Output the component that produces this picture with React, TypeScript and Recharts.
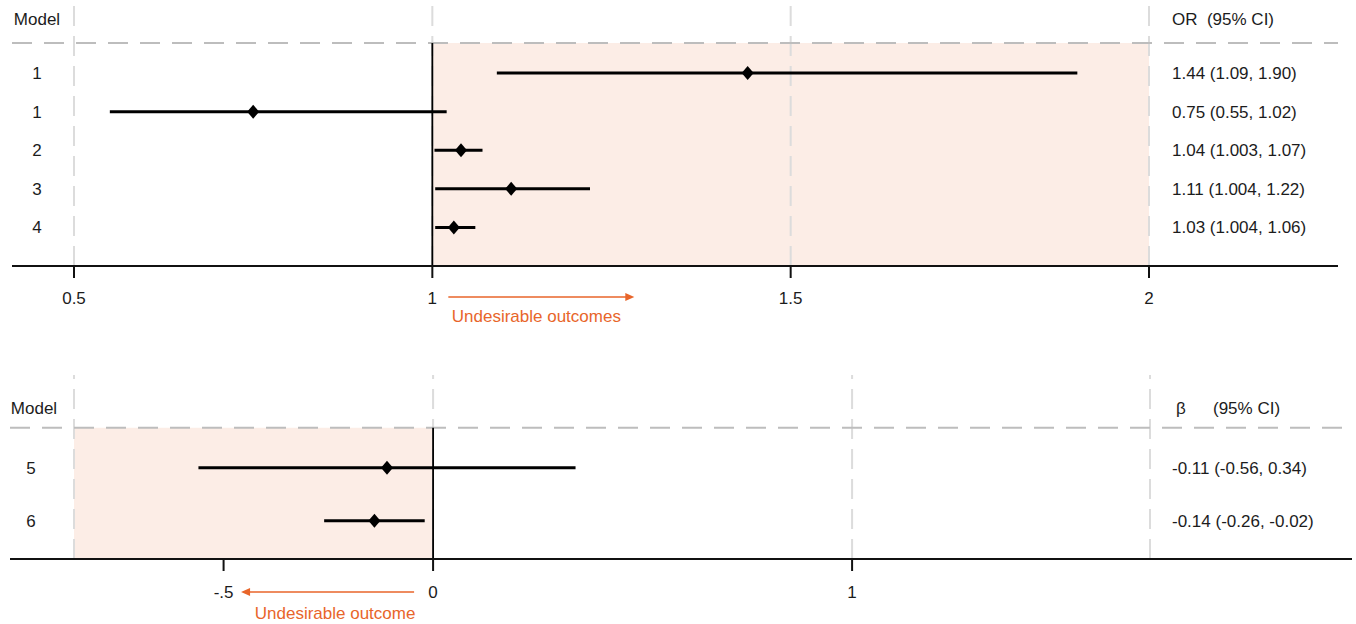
import React from 'react';
import { ComposedChart, Scatter, ErrorBar, XAxis, YAxis, ReferenceLine, ReferenceArea } from 'recharts';

// ---------- Data: odds ratios (top panel) ----------
const orModels = ['1', '1', '2', '3', '4'];
const orEstimate = [1.44, 0.75, 1.04, 1.11, 1.03];
const orLower = [1.09, 0.55, 1.003, 1.004, 1.004];
const orUpper = [1.9, 1.02, 1.07, 1.22, 1.06];
const orText = ['1.44 (1.09, 1.90)', '0.75 (0.55, 1.02)', '1.04 (1.003, 1.07)', '1.11 (1.004, 1.22)', '1.03 (1.004, 1.06)'];
const orTicks = [0.5, 1, 1.5, 2];
const orTickLabels = ['0.5', '1', '1.5', '2'];

// ---------- Data: beta coefficients (bottom panel) ----------
const betaModels = ['5', '6'];
const betaEstimate = [-0.11, -0.14];
const betaLower = [-0.56, -0.26];
const betaUpper = [0.34, -0.02];
const betaText = ['-0.11 (-0.56, 0.34)', '-0.14 (-0.26, -0.02)'];
const betaTicks = [-0.5, 0, 1];
const betaTickLabels = ['-.5', '0', '1'];

const FONT = '"Liberation Sans", Arial, sans-serif';
const TXT = '#1c1c1c';
const ORANGE = '#E8652A';
const SHADE = '#FCEDE6';
const GRID = '#dcdcdc';
const DASH = '#bdbdbd';

function buildRows(est: number[], lo: number[], hi: number[]) {
  return est.map((e, i) => ({ x: e, y: i, err: [e - lo[i], hi[i] - e] }));
}

const Diamond = (props: any) => {
  const { cx, cy } = props;
  if (cx == null || cy == null) return null;
  return (
    <polygon
      points={`${cx},${cy - 7} ${cx + 6},${cy} ${cx},${cy + 7} ${cx - 6},${cy}`}
      fill="#000"
    />
  );
};

type PanelCfg = {
  width: number;
  height: number;
  top: number;
  margin: { top: number; right: number; left: number; bottom: number };
  xDomain: [number, number];
  xPadding: { left: number; right: number };
  yDomain: [number, number];
  headerPos: number;
  dashPos: number;
  models: string[];
  modelX: number;
  headerModelX: number;
  texts: string[];
  rows: any[];
  ticks: number[];
  tickLabels: string[];
  gridX: number[];
  shade: [number, number];
  refX: number;
  tickMargin: number;
  header: (y: number) => React.ReactNode;
  arrowTick: number;
  arrowDir: 'right' | 'left';
  arrowLabel: string;
  labelDy: number;
};

function makeYTick(cfg: PanelCfg) {
  return (props: any) => {
    const { y, payload } = props;
    const v = payload.value;
    const style = { fontFamily: FONT, fontSize: 17, fill: TXT } as any;
    if (v === cfg.headerPos) {
      return (
        <g>
          <text x={cfg.headerModelX} y={y} dy="0.355em" textAnchor="middle" style={style}>Model</text>
          {cfg.header(y)}
        </g>
      );
    }
    const i = Math.round(v);
    return (
      <g>
        <text x={cfg.modelX} y={y} dy="0.355em" textAnchor="middle" style={style}>{cfg.models[i]}</text>
        <text x={1172} y={y} dy="0.355em" textAnchor="start" style={style}>{cfg.texts[i]}</text>
      </g>
    );
  };
}

function makeXTick(cfg: PanelCfg) {
  return (props: any) => {
    const { x, y, payload } = props;
    const idx = cfg.ticks.indexOf(payload.value);
    const style = { fontFamily: FONT, fontSize: 17, fill: TXT } as any;
    const isArrow = payload.value === cfg.arrowTick;
    let arrow = null;
    if (isArrow) {
      if (cfg.arrowDir === 'right') {
        const x0 = x + 16, x1 = x + 202;
        arrow = (
          <g>
            <line x1={x0} y1={y - 1} x2={x1 - 7} y2={y - 1} stroke={ORANGE} strokeWidth={1.6} />
            <polygon points={`${x1},${y - 1} ${x1 - 9},${y - 5} ${x1 - 9},${y + 3}`} fill={ORANGE} />
            <text x={x + 104} y={y + cfg.labelDy} dy="0.355em" textAnchor="middle" style={{ fontFamily: FONT, fontSize: 17, fill: ORANGE }}>
              {cfg.arrowLabel}
            </text>
          </g>
        );
      } else {
        const x0 = x - 19, x1 = x - 192;
        arrow = (
          <g>
            <line x1={x0} y1={y} x2={x1 + 7} y2={y} stroke={ORANGE} strokeWidth={1.6} />
            <polygon points={`${x1},${y} ${x1 + 9},${y - 4} ${x1 + 9},${y + 4}`} fill={ORANGE} />
            <text x={x - 98} y={y + cfg.labelDy} dy="0.355em" textAnchor="middle" style={{ fontFamily: FONT, fontSize: 17, fill: ORANGE }}>
              {cfg.arrowLabel}
            </text>
          </g>
        );
      }
    }
    return (
      <g>
        <text x={x} y={y} dy="0.355em" textAnchor="middle" style={style}>{cfg.tickLabels[idx]}</text>
        {arrow}
      </g>
    );
  };
}

function Panel({ cfg }: { cfg: PanelCfg }) {
  const yTicks = [cfg.headerPos, ...cfg.models.map((_, i) => i)];
  return (
    <div style={{ position: 'absolute', left: 0, top: cfg.top }}>
      <ComposedChart width={cfg.width} height={cfg.height} margin={cfg.margin}>
        <XAxis
          type="number"
          dataKey="x"
          domain={cfg.xDomain}
          allowDataOverflow
          ticks={cfg.ticks}
          interval={0}
          padding={cfg.xPadding}
          height={40}
          axisLine={{ stroke: '#111', strokeWidth: 2 }}
          tickLine={{ stroke: '#111', strokeWidth: 2 }}
          tickSize={12}
          tickMargin={cfg.tickMargin}
          tick={makeXTick(cfg)}
        />
        <YAxis
          type="number"
          dataKey="y"
          domain={cfg.yDomain}
          allowDataOverflow
          reversed
          ticks={yTicks}
          interval={0}
          width={1}
          axisLine={false}
          tickLine={false}
          tick={makeYTick(cfg)}
        />
        <ReferenceArea
          x1={cfg.shade[0]}
          x2={cfg.shade[1]}
          y1={cfg.dashPos}
          y2={cfg.yDomain[1]}
          fill={SHADE}
          fillOpacity={1}
          stroke="none"
        />
        {cfg.gridX.map((g) => (
          <ReferenceLine key={'g' + g} x={g} stroke={GRID} strokeWidth={2} strokeDasharray="20 10" />
        ))}
        <ReferenceLine y={cfg.dashPos} stroke={DASH} strokeWidth={2} strokeDasharray="20 12" />
        <ReferenceLine
          segment={[{ x: cfg.refX, y: cfg.dashPos }, { x: cfg.refX, y: cfg.yDomain[1] }]}
          stroke="#000"
          strokeWidth={1.8}
        />
        <Scatter data={cfg.rows} shape={<Diamond />} isAnimationActive={false}>
          <ErrorBar dataKey="err" direction="x" width={0} stroke="#000" strokeWidth={3} isAnimationActive={false} />
        </Scatter>
      </ComposedChart>
    </div>
  );
}

const hdrStyle = { fontFamily: FONT, fontSize: 17, fill: TXT, whiteSpace: 'pre' } as any;

const topCfg: PanelCfg = {
  width: 1356,
  height: 330,
  top: 0,
  margin: { top: 6, right: 18, left: 11, bottom: 24 },
  xDomain: [0.5, 2],
  xPadding: { left: 62, right: 189 },
  yDomain: [-1.74, 5.0],
  headerPos: -1.4,
  dashPos: -0.78,
  models: orModels,
  modelX: 37,
  headerModelX: 37,
  texts: orText,
  rows: buildRows(orEstimate, orLower, orUpper),
  ticks: orTicks,
  tickLabels: orTickLabels,
  gridX: orTicks,
  shade: [1, 2],
  refX: 1,
  tickMargin: 20,
  header: (y: number) => (
    <text x={1172} y={y} dy="0.355em" textAnchor="start" style={hdrStyle}>{'OR  (95% CI)'}</text>
  ),
  arrowTick: 1,
  arrowDir: 'right',
  arrowLabel: 'Undesirable outcomes',
  labelDy: 18,
};

const bottomCfg: PanelCfg = {
  width: 1356,
  height: 294,
  top: 330,
  margin: { top: 45, right: 4, left: 9, bottom: 25 },
  xDomain: [-0.857, 1.711],
  xPadding: { left: 64, right: 202 },
  yDomain: [-1.75, 1.72],
  headerPos: -1.13,
  dashPos: -0.755,
  models: betaModels,
  modelX: 31,
  headerModelX: 34,
  texts: betaText,
  rows: buildRows(betaEstimate, betaLower, betaUpper),
  ticks: betaTicks,
  tickLabels: betaTickLabels,
  gridX: [-0.857, 0, 1, 1.711],
  shade: [-0.857, 0],
  refX: 0,
  tickMargin: 21,
  header: (y: number) => (
    <g>
      <text x={1176} y={y} dy="0.355em" textAnchor="start" style={hdrStyle}>β</text>
      <text x={1213} y={y} dy="0.355em" textAnchor="start" style={hdrStyle}>(95% CI)</text>
    </g>
  ),
  arrowTick: 0,
  arrowDir: 'left',
  arrowLabel: 'Undesirable outcome',
  labelDy: 21,
};

export default function App() {
  return (
    <div style={{ position: 'absolute', left: 0, top: 0, width: 1356, height: 624, background: '#fff' }}>
      <Panel cfg={topCfg} />
      <Panel cfg={bottomCfg} />
    </div>
  );
}
